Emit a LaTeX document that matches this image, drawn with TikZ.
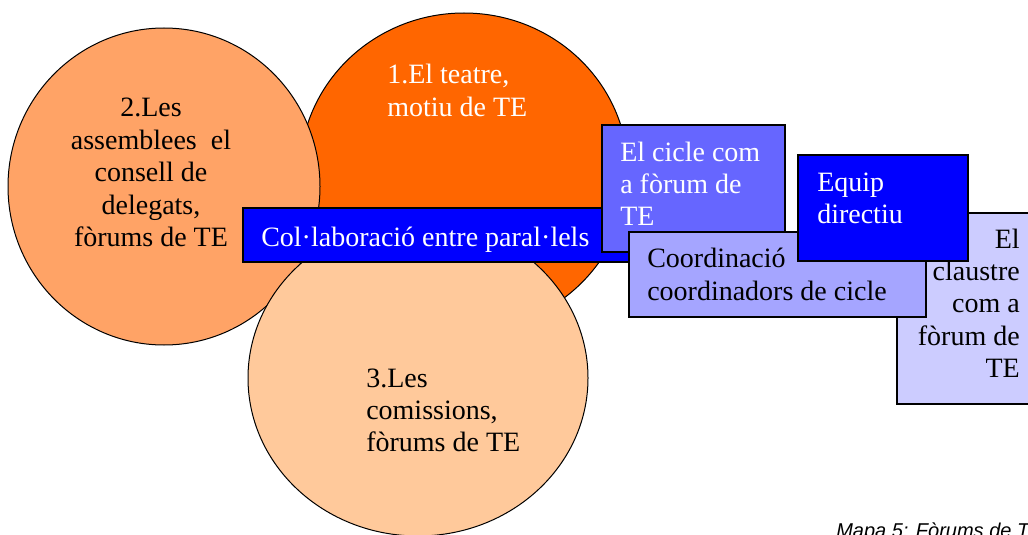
\documentclass[tikz,border=0pt]{standalone}
\usepackage{fontspec}
\setmainfont{Liberation Serif}
\newfontfamily\capfont{Liberation Sans}
\usetikzlibrary{shapes.geometric}
\definecolor{orangeA}{HTML}{FF6600}
\definecolor{orangeB}{HTML}{FFA366}
\definecolor{peach}{HTML}{FFC99B}
\definecolor{pureblue}{HTML}{0000FF}
\definecolor{midblue}{HTML}{6666FF}
\definecolor{lightblue}{HTML}{A5A5FF}
\definecolor{paleblue}{HTML}{CCCCFF}
\newcommand\tabL[1]{\begin{tabular}[t]{@{}l@{}}#1\end{tabular}}
\newcommand\tabC[1]{\begin{tabular}[t]{@{}c@{}}#1\end{tabular}}
\newcommand\tabR[1]{\begin{tabular}[t]{@{}r@{}}#1\end{tabular}}
\begin{document}
\begin{tikzpicture}[x=0.75pt,y=-0.75pt,
  circ/.style={ellipse, draw=black, line width=0.75pt, inner sep=0pt},
  box/.style={rectangle, draw=black, line width=1pt, inner sep=0pt},
  txt/.style={inner sep=0pt, anchor=base west, font=\fontsize{21}{24.3}\selectfont},
  wtxt/.style={txt, text=white}]
\useasboundingbox (0,0) rectangle (1028,535);
% circles
\node[circ, fill=orangeA, minimum width=246pt, minimum height=238.5pt] (c1) at (464,172) {};
\node[wtxt] (t1) at (387,84) {\tabL{1.El teatre,\\motiu de TE}};
\node[circ, fill=orangeB, minimum width=234pt, minimum height=237.75pt] (c2) at (164,186.5) {};
\node[txt, anchor=base] (t2) at (151,117) {\tabC{2.Les\\assemblees\ \ el\\consell de\\delegats,\\fòrums de TE}};
\node[circ, fill=peach, minimum width=255pt, minimum height=237pt] (c3) at (418,378) {};
\node[txt] (t3) at (366,387) {\tabL{3.Les\\comissions,\\fòrums de TE}};
% bar
\node[box, fill=pureblue, minimum width=297.75pt, minimum height=40.5pt] (bar) at (441.5,235) {};
\node[wtxt] (tbar) at (261,246) {Col·laboració entre paral·lels};
% boxes
\node[box, fill=paleblue, minimum width=107.25pt, minimum height=143.25pt] (claus) at (968.5,308.5) {};
\node[txt, anchor=base east] (tclaus) at (1020,248) {\tabR{El\\claustre\\com a\\fòrum de\\TE}};
\node[box, fill=midblue, minimum width=137.25pt, minimum height=95.25pt] (cicle) at (693.5,188.5) {};
\node[wtxt] (tcicle) at (620,161) {\tabL{El cicle com\\a fòrum de\\TE}};
\node[box, fill=lightblue, minimum width=222.75pt, minimum height=63.75pt] (coord) at (777.5,274.5) {};
\node[txt, font=\fontsize{21}{24.8}\selectfont] (tcoord) at (647,267) {\tabL{Coordinació\\coordinadors de cicle}};
\node[box, fill=pureblue, minimum width=127.5pt, minimum height=79.5pt] (equip) at (883,208) {};
\node[wtxt] (tequip) at (817,191) {\tabL{Equip\\directiu}};
% caption
\node[inner sep=0pt, anchor=base west, font=\capfont\itshape\fontsize{15}{18}\selectfont] (cap) at (836,537) {Mapa 5: Fòrums de TE};
\end{tikzpicture}
\end{document}
